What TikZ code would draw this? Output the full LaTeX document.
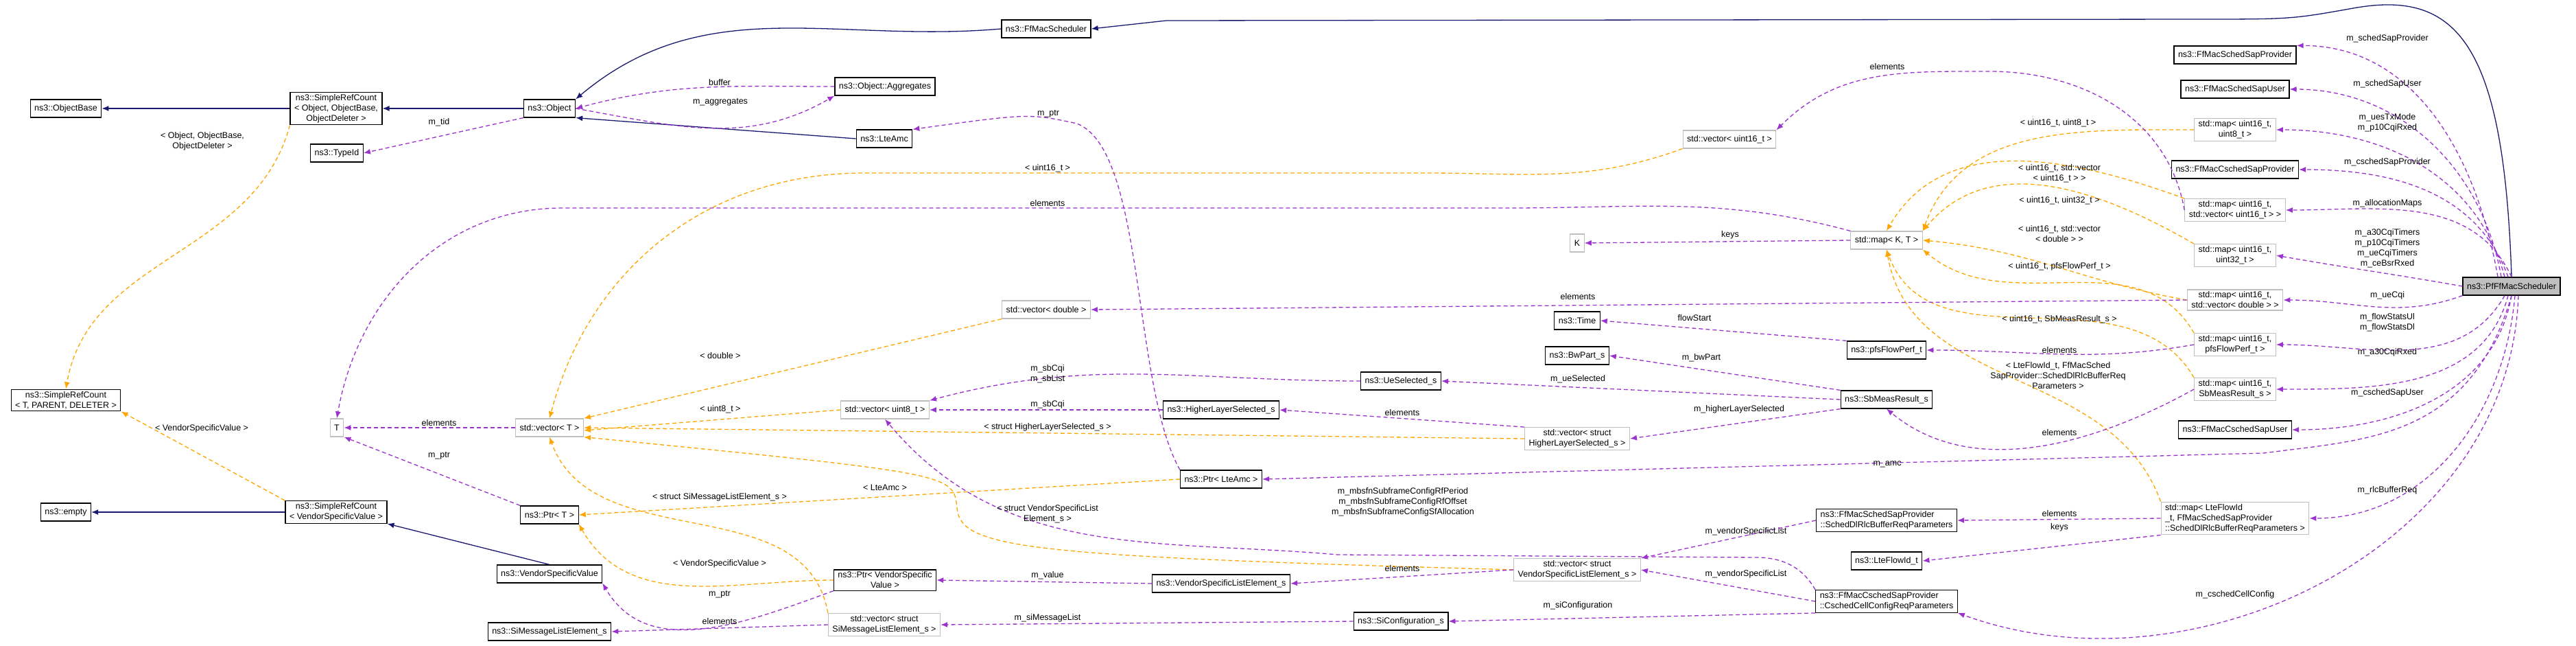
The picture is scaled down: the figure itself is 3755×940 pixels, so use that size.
\documentclass[tikz,border=0pt]{standalone}
\usepackage{fontspec}
\setmainfont{Liberation Sans}
\usetikzlibrary{arrows.meta}
\definecolor{inhcol}{HTML}{191970}
\definecolor{memcol}{HTML}{9A32CD}
\definecolor{tplcol}{HTML}{FFA500}
\definecolor{stdcol}{HTML}{BFBFBF}

\begin{document}
\begin{tikzpicture}[x=1pt,y=-1pt,
  font=\fontsize{12.5}{15}\selectfont,
  cls/.style={draw=black,line width=1.2pt,fill=white,inner xsep=6pt,inner ysep=3pt,minimum height=26pt,align=center},
  stdbox/.style={cls,draw=stdcol},
  lbl/.style={inner sep=1pt,align=center},
  inh/.style={draw=inhcol,line width=1.3pt,-{Latex[length=10pt,width=8pt]}},
  mem/.style={draw=memcol,line width=1.3pt,dash pattern=on 6pt off 4pt,-{Latex[length=10pt,width=8pt]}},
  tpl/.style={draw=tplcol,line width=1.3pt,dash pattern=on 6pt off 4pt,-{Latex[length=10pt,width=8pt]}}]
\useasboundingbox (0,0) rectangle (3755,940);

% Classes
\node[cls] (obase) at (96,158) {ns3::ObjectBase};
\node[cls] (srcobj) at (490,158) {ns3::SimpleRefCount\\< Object, ObjectBase,\\ObjectDeleter >};
\node[cls] (obj) at (801,158) {ns3::Object};
\node[cls] (tid) at (491,223) {ns3::TypeId};
\node[cls] (aggr) at (1290,126) {ns3::Object::Aggregates};
\node[cls] (lteamc) at (1289,202) {ns3::LteAmc};
\node[cls] (ffs) at (1525,42) {ns3::FfMacScheduler};
\node[cls] (srct) at (96,583) {ns3::SimpleRefCount\\< T, PARENT, DELETER >};
\node[stdbox] (tt) at (491,623) {T};
\node[stdbox] (vect) at (801,623) {std::vector< T >};
\node[cls] (empty) at (96,746) {ns3::empty};
\node[cls] (srcvsv) at (490,746) {ns3::SimpleRefCount\\< VendorSpecificValue >};
\node[cls] (ptrt) at (801,750) {ns3::Ptr< T >};
\node[cls] (vsv) at (801,836) {ns3::VendorSpecificValue};
\node[cls] (simle) at (801,920) {ns3::SiMessageListElement\_s};
\node[cls] (ptrvsv) at (1290,845) {ns3::Ptr< VendorSpecific\\Value >};
\node[stdbox] (vecsi) at (1289,910) {std::vector< struct\\SiMessageListElement\_s >};
\node[stdbox] (vec16) at (2521,203) {std::vector< uint16\_t >};
\node[stdbox] (kk) at (2299,354) {K};
\node[stdbox] (vecd) at (1525,451) {std::vector< double >};
\node[cls] (time) at (2299,467) {ns3::Time};
\node[cls] (bwpart) at (2299,518) {ns3::BwPart\_s};
\node[cls] (uesel) at (2042,555) {ns3::UeSelected\_s};
\node[stdbox] (vec8) at (1290,597) {std::vector< uint8\_t >};
\node[cls] (hls) at (1780,597) {ns3::HigherLayerSelected\_s};
\node[stdbox] (vechls) at (2299,639) {std::vector< struct\\HigherLayerSelected\_s >};
\node[cls] (ptramc) at (1780,698) {ns3::Ptr< LteAmc >};
\node[cls] (vsle) at (1780,850) {ns3::VendorSpecificListElement\_s};
\node[stdbox] (vecvsle) at (2299,830) {std::vector< struct\\VendorSpecificListElement\_s >};
\node[cls] (sicfg) at (2042,905) {ns3::SiConfiguration\_s};
\node[cls] (ssp) at (3258,80) {ns3::FfMacSchedSapProvider};
\node[cls] (ssu) at (3258,130) {ns3::FfMacSchedSapUser};
\node[stdbox] (map8) at (3258,189) {std::map< uint16\_t,\\uint8\_t >};
\node[cls] (csp) at (3258,247) {ns3::FfMacCschedSapProvider};
\node[stdbox] (mapv16) at (3258,306) {std::map< uint16\_t,\\std::vector< uint16\_t > >};
\node[stdbox] (map32) at (3258,372) {std::map< uint16\_t,\\uint32\_t >};
\node[stdbox] (mapkt) at (2750,350) {std::map< K, T >};
\node[cls,fill=stdcol] (pf) at (3661,417) {ns3::PfFfMacScheduler};
\node[stdbox] (mapvd) at (3258,437) {std::map< uint16\_t,\\std::vector< double > >};
\node[stdbox] (mappfs) at (3258,502) {std::map< uint16\_t,\\pfsFlowPerf\_t >};
\node[cls] (pfs) at (2750,510) {ns3::pfsFlowPerf\_t};
\node[stdbox] (mapsbm) at (3258,567) {std::map< uint16\_t,\\SbMeasResult\_s >};
\node[cls] (sbm) at (2750,582) {ns3::SbMeasResult\_s};
\node[cls] (csu) at (3258,626) {ns3::FfMacCschedSapUser};
\node[cls,align=left] (rlcpar) at (2750,758) {ns3::FfMacSchedSapProvider\\::SchedDlRlcBufferReqParameters};
\node[stdbox,align=left] (maplte) at (3258,755) {std::map< LteFlowId\\\_t, FfMacSchedSapProvider\\::SchedDlRlcBufferReqParameters >};
\node[cls] (lfid) at (2750,817) {ns3::LteFlowId\_t};
\node[cls,align=left] (cellcfg) at (2750,876) {ns3::FfMacCschedSapProvider\\::CschedCellConfigReqParameters};

% Inheritance
\draw[inh] (srcobj) -- (obase);
\draw[inh] (obj) -- (srcobj);
\draw[inh] (lteamc.west) -- (obj.south east);
\draw[inh] (ffs.west) to[out=185,in=40] (obj.north east);
\draw[inh] (pf.north) .. controls (3650,60) and (3580,-15) .. (3430,12) .. controls (3340,28) .. (3200,28) -- (1700,30) -- (ffs.east);
\draw[inh] (srcvsv) -- (empty);
\draw[inh] (vsv.north) -- (srcvsv.south east);

% Templates
\draw[tpl] (srcobj.south west) to[out=-105,in=80] (srct.north);
\draw[tpl] (srcvsv.north west) -- (srct.south east);
\draw[tpl] (vec16.south west) to[out=200,in=0] (2080,252) -- (1260,252) to[out=180,in=75] (vect.north);
\draw[tpl] (vecd.south west) -- (vect.north east);
\draw[tpl] (vec8.west) -- ([yshift=-4pt]vect.east);
\draw[tpl] (vechls.west) -- (vect.east);
\draw[tpl] (vecvsle.west) .. controls (1500,810) and (1400,800) .. (1395,740) .. controls (1390,690) .. (vect.south east);
\draw[tpl] (vecsi.north west) to[out=100,in=-70] (vect.south);
\draw[tpl] (ptramc.west) -- (ptrt.east);
\draw[tpl] (ptrvsv.west) to[out=180,in=-60] (ptrt.south east);
\draw[tpl] (map8.west) to[out=180,in=70] (mapkt.north east);
\draw[tpl] (mapv16.north west) to[out=160,in=60] (mapkt.north);
\draw[tpl] (map32.north west) to[out=150,in=50] (mapkt.north east);
\draw[tpl] (mapvd.west) to[out=170,in=-5] (mapkt.east);
\draw[tpl] (mappfs.north west) to[out=120,in=-40] (mapkt.south east);
\draw[tpl] (mapsbm.north west) to[out=120,in=-70] (mapkt.south);
\draw[tpl] (maplte.north west) to[out=110,in=-80] (mapkt.south);

% Members
\draw[mem] (obj.south west) -- (tid.east);
\draw[mem] (aggr.west) to[out=180,in=15] (obj.east);
\draw[mem] (obj.east) to[out=-10,in=-150] (aggr.south west);
\draw[mem] (vect) -- (tt);
\draw[mem] (ptrt.north west) -- (tt.south east);
\draw[mem] (mapkt.north west) to[out=165,in=0] (2200,303) -- (820,303) to[out=180,in=80] (tt.north);
\draw[mem] (ptramc.north west) .. controls (1650,560) and (1670,220) .. (1570,180) .. controls (1500,165) .. (lteamc.north east);
\draw[mem] (mapkt.west) -- (kk.east);
\draw[mem] (mapv16.west) to[out=100,in=0] (2900,104) to[out=180,in=45] (vec16.north east);
\draw[mem] (mapvd.west) -- (vecd.east);
\draw[mem] (ptrvsv.south west) to[out=200,in=-60] (vsv.south east);
\draw[mem] (vecsi.west) -- (simle.east);
\draw[mem] (mappfs.west) to[out=190,in=0] (pfs.east);
\draw[mem] (pfs.north west) -- (time.east);
\draw[mem] (sbm.north west) -- (bwpart.east);
\draw[mem] (sbm.west) -- (uesel.east);
\draw[mem] (sbm.south west) -- (vechls.east);
\draw[mem] (uesel.west) to[out=180,in=15] (vec8.north east);
\draw[mem] (hls.west) -- (vec8.east);
\draw[mem] (vechls.north west) -- (hls.east);
\draw[mem] (mapsbm.west) .. controls (3120,610) and (2900,720) .. (sbm.south);
\draw[mem] (pf.south) .. controls (3600,640) and (3450,640) .. (3300,660) -- (ptramc.east);
\draw[mem] (cellcfg.north west) to[out=120,in=0] (2560,812) -- (1950,808) to[out=175,in=-50] (vec8.south);
\draw[mem] (rlcpar.west) -- (vecvsle.north east);
\draw[mem] (cellcfg.west) -- (vecvsle.east);
\draw[mem] (vecvsle.west) -- (vsle.east);
\draw[mem] (vsle.west) -- (ptrvsv.east);
\draw[mem] (cellcfg.south west) -- (sicfg.east);
\draw[mem] (sicfg.west) -- (vecsi.east);
\draw[mem] (maplte.west) -- (rlcpar.east);
\draw[mem] (maplte.south west) -- (lfid.east);
\draw[mem] ([xshift=-20pt]pf.north) to[out=100,in=0] (ssp.north east);
\draw[mem] ([xshift=-15pt]pf.north) to[out=100,in=0] (ssu.east);
\draw[mem] ([xshift=-10pt]pf.north) to[out=105,in=0] (map8.east);
\draw[mem] ([xshift=-5pt]pf.north) to[out=110,in=0] (csp.east);
\draw[mem] (pf.north) to[out=115,in=0] (mapv16.east);
\draw[mem] (pf.west) to[out=170,in=-10] (map32.east);
\draw[mem] (pf.south west) to[out=200,in=0] (mapvd.east);
\draw[mem] ([xshift=-10pt]pf.south) to[out=-120,in=0] (mappfs.east);
\draw[mem] ([xshift=-5pt]pf.south) to[out=-105,in=0] (mapsbm.east);
\draw[mem] (pf.south) to[out=-100,in=0] (csu.east);
\draw[mem] ([xshift=5pt]pf.south) to[out=-95,in=0] (maplte.east);
\draw[mem] ([xshift=10pt]pf.south) to[out=-92,in=-20] (cellcfg.south east);

% Labels
\node[lbl] (lbuffer) at (1049,120) {buffer};
\node[lbl] (lagg) at (1050,149) {m\_aggregates};
\node[lbl] (ltid) at (640,178) {m\_tid};
\node[lbl] (lsrcobj) at (295,206) {< Object, ObjectBase,\\ObjectDeleter >};
\node[lbl] (lsrcvsv) at (294,624) {< VendorSpecificValue >};
\node[lbl] (lelt) at (640,616) {elements};
\node[lbl] (lptrt) at (640,664) {m\_ptr};
\node[lbl] (ldbl) at (1050,518) {< double >};
\node[lbl] (lu8) at (1050,596) {< uint8\_t >};
\node[lbl] (lsimsg) at (1049,724) {< struct SiMessageListElement\_s >};
\node[lbl] (lvsv) at (1049,821) {< VendorSpecificValue >};
\node[lbl] (lptrvsv) at (1049,866) {m\_ptr};
\node[lbl] (lelsi) at (1049,905) {elements};
\node[lbl] (lptramc) at (1528,166) {m\_ptr};
\node[lbl] (lu16) at (1527,245) {< uint16\_t >};
\node[lbl] (lelkt) at (1527,296) {elements};
\node[lbl] (leld) at (2300,432) {elements};
\node[lbl] (lsbcqi) at (1527,545) {m\_sbCqi\\m\_sbList};
\node[lbl] (lsbcqi2) at (1527,589) {m\_sbCqi};
\node[lbl] (lhls) at (1527,622) {< struct HigherLayerSelected\_s >};
\node[lbl] (lamc) at (1290,710) {< LteAmc >};
\node[lbl] (luesel) at (2300,552) {m\_ueSelected};
\node[lbl] (lelhls) at (2044,601) {elements};
\node[lbl] (lhigher) at (2535,596) {m\_higherLayerSelected};
\node[lbl] (lmbsfn) at (2045,731) {m\_mbsfnSubframeConfigRfPeriod\\m\_mbsfnSubframeConfigRfOffset\\m\_mbsfnSubframeConfigSfAllocation};
\node[lbl] (lvsle) at (1527,749) {< struct VendorSpecificList\\Element\_s >};
\node[lbl] (lelvsle) at (2044,828) {elements};
\node[lbl] (lvalue) at (1527,838) {m\_value};
\node[lbl] (lsicfg) at (2300,882) {m\_siConfiguration};
\node[lbl] (lsimsgl) at (1527,900) {m\_siMessageList};
\node[lbl] (lvsl1) at (2545,774) {m\_vendorSpecificList};
\node[lbl] (lvsl2) at (2545,836) {m\_vendorSpecificList};
\node[lbl] (lssp) at (3480,56) {m\_schedSapProvider};
\node[lbl] (lssu) at (3480,122) {m\_schedSapUser};
\node[lbl] (luestx) at (3480,179) {m\_uesTxMode\\m\_p10CqiRxed};
\node[lbl] (lcsp) at (3480,236) {m\_cschedSapProvider};
\node[lbl] (lalloc) at (3480,296) {m\_allocationMaps};
\node[lbl] (ltimers) at (3480,362) {m\_a30CqiTimers\\m\_p10CqiTimers\\m\_ueCqiTimers\\m\_ceBsrRxed};
\node[lbl] (luecqi) at (3480,430) {m\_ueCqi};
\node[lbl] (lflow) at (3480,470) {m\_flowStatsUl\\m\_flowStatsDl};
\node[lbl] (lelv16) at (2751,97) {elements};
\node[lbl] (lm8) at (3000,179) {< uint16\_t, uint8\_t >};
\node[lbl] (lmv16) at (3002,253) {< uint16\_t, std::vector\\< uint16\_t > >};
\node[lbl] (lm32) at (3002,292) {< uint16\_t, uint32\_t >};
\node[lbl] (lmvd) at (3002,341) {< uint16\_t, std::vector\\< double > >};
\node[lbl] (lmpfs) at (3002,388) {< uint16\_t, pfsFlowPerf\_t >};
\node[lbl] (lmsbm) at (3002,465) {< uint16\_t, SbMeasResult\_s >};
\node[lbl] (lkeys) at (2522,342) {keys};
\node[lbl] (lflowst) at (2470,463) {flowStart};
\node[lbl] (lbw) at (2480,521) {m\_bwPart};
\node[lbl] (lelpfs) at (3002,510) {elements};
\node[lbl] (lmlte) at (3000,547) {< LteFlowId\_t, FfMacSched\\SapProvider::SchedDlRlcBufferReq\\Parameters >};
\node[lbl] (lelsbm) at (3002,630) {elements};
\node[lbl] (lmamc) at (2751,676) {m\_amc};
\node[lbl] (la30) at (3480,513) {m\_a30CqiRxed};
\node[lbl] (lcsu) at (3480,572) {m\_cschedSapUser};
\node[lbl] (lrlc) at (3480,714) {m\_rlcBufferReq};
\node[lbl] (lellte) at (3002,748) {elements};
\node[lbl] (lkeyslte) at (3002,768) {keys};
\node[lbl] (lcell) at (3258,866) {m\_cschedCellConfig};
\end{tikzpicture}
\end{document}
